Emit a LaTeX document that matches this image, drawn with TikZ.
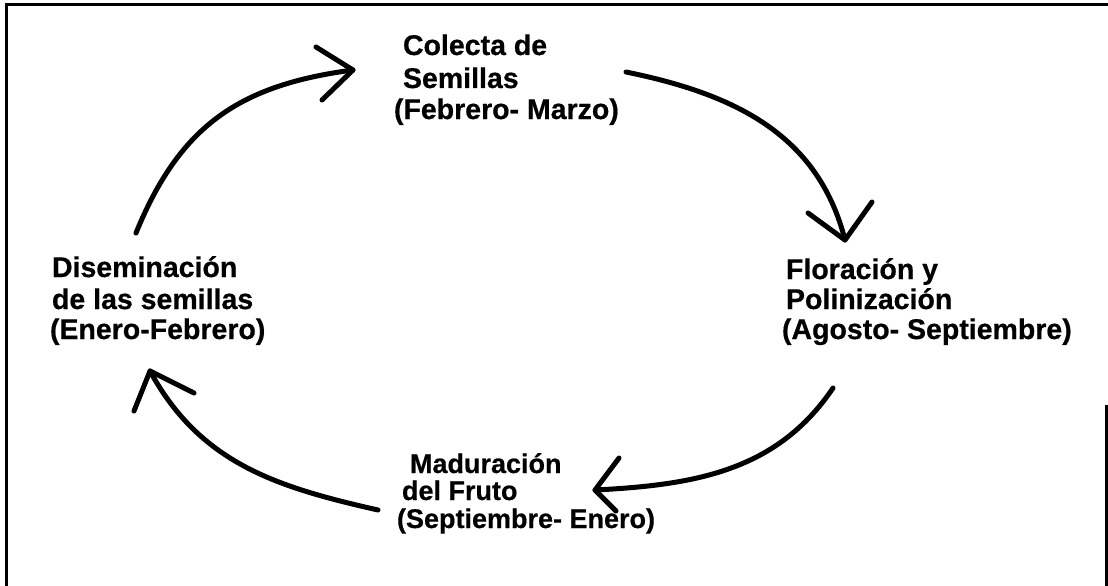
\documentclass[tikz,border=0pt]{standalone}
\usepackage{fontspec}
\setmainfont{Liberation Sans}[BoldFeatures={FakeBold=0.6}]
\begin{document}
\begin{tikzpicture}[x=1pt,y=-1pt,
  lbl/.style={anchor=base west,inner sep=0pt,outer sep=0pt,font=\bfseries\fontsize{28.5}{32}\selectfont},
  lblsm/.style={lbl,font=\bfseries\fontsize{27}{30}\selectfont},
  curve/.style={line width=5pt,line cap=round,line join=round},
  frame/.style={line width=3pt}]
\useasboundingbox (0,0) rectangle (1108,586);
% frame
\draw[frame] (6,586) -- (6,5) -- (1108,5);
\draw[frame] (1106,405) -- (1106,586);
% labels
\node[lbl] (c1) at (403,55) {Colecta de};
\node[lbl] (c2) at (403,88) {Semillas};
\node[lbl] (c3) at (394,119) {(Febrero- Marzo)};
\node[lbl] (f1) at (786,279) {Floración y};
\node[lbl] (f2) at (786,309) {Polinización};
\node[lbl] (f3) at (782,339) {(Agosto- Septiembre)};
\node[lbl] (d1) at (52,277) {Diseminación};
\node[lbl] (d2) at (52,309) {de las semillas};
\node[lbl] (d3) at (50,339) {(Enero-Febrero)};
\node[lblsm] (m1) at (410,473) {Maduración};
\node[lblsm] (m2) at (402,500) {del Fruto};
\node[lblsm] (m3) at (397,528) {(Septiembre- Enero)};
% arrow end points
\coordinate (s1) at (136,233); \coordinate (t1) at (353,70);
\coordinate (b1a) at (316,47); \coordinate (b1b) at (322,100);
\coordinate (s2) at (626,72); \coordinate (t2) at (845,240);
\coordinate (b2a) at (808,213); \coordinate (b2b) at (872,202);
\coordinate (s3) at (833,388); \coordinate (t3) at (595,490);
\coordinate (b3a) at (619,458); \coordinate (b3b) at (616,511);
\coordinate (s4) at (378,510); \coordinate (t4) at (150,371);
\coordinate (b4a) at (134,411); \coordinate (b4b) at (194,393);
% arrows
\draw[curve] (s1) .. controls (180,125) and (240,85) .. (t1);
\draw[curve] (b1a) -- (t1) -- (b1b);
\draw[curve] (s2) .. controls (734,94) and (818,134) .. (t2);
\draw[curve] (b2a) -- (t2) -- (b2b);
\draw[curve] (s3) .. controls (777,471) and (695,485) .. (t3);
\draw[curve] (b3a) -- (t3) -- (b3b);
\draw[curve] (s4) .. controls (276,487) and (200,463) .. (t4);
\draw[curve] (b4a) -- (t4) -- (b4b);
\end{tikzpicture}
\end{document}
